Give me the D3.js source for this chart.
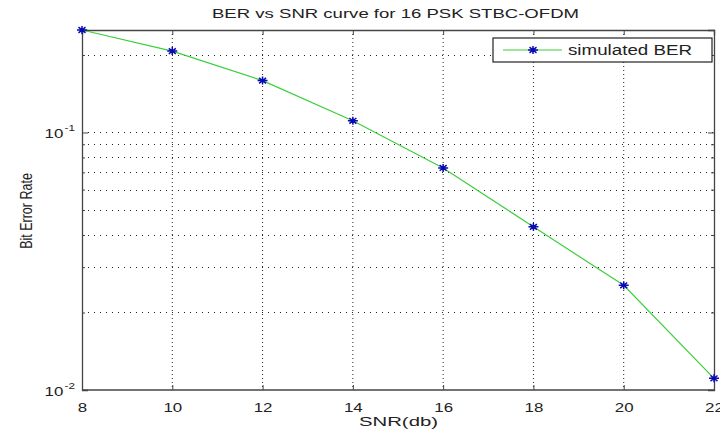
<!DOCTYPE html>
<html>
<head>
<meta charset="utf-8">
<script src="https://cdn.jsdelivr.net/npm/d3@7"></script>
<style>
  body { margin: 0; background: #fff; }
  text { font-family: "Liberation Sans", Arial, sans-serif; fill: #222; }
</style>
</head>
<body>
<div id="vis"></div>
<script>
// data
let snr = [8, 10, 12, 14, 16, 18, 20, 22]
let ber = [0.25, 0.207, 0.159, 0.111, 0.0728, 0.043, 0.0255, 0.0111]

let xTicks = [8, 10, 12, 14, 16, 18, 20, 22]
let yMajor = [0.01, 0.1]
let yMinor = [0.02, 0.03, 0.04, 0.05, 0.06, 0.07, 0.08, 0.09, 0.2]
let yLabels = ['-2', '-1']

let W = 720, H = 432
let margin = {top: 30, right: 6, bottom: 42, left: 82}
let w = W - margin.left - margin.right
let h = H - margin.top - margin.bottom
let sx = 1.3  // text in the picture is stretched sideways

let svg = d3.select('#vis').append('svg')
    .attr('width', W)
    .attr('height', H)

let g = svg.append('g')
    .attr('transform', `translate(${margin.left},${margin.top})`)

let x = d3.scaleLinear().domain([8, 22]).range([0, w])
let y = d3.scaleLog().domain([0.01, 0.25]).range([h, 0])

// grid
g.append('g').selectAll('line')
    .data(xTicks.slice(1, -1))
    .join('line')
    .attr('x1', d => x(d)).attr('x2', d => x(d))
    .attr('y1', 0).attr('y2', h)
    .attr('stroke', '#222')
    .attr('stroke-width', 1)
    .attr('stroke-dasharray', '1,3')

g.append('g').selectAll('line')
    .data(yMajor.concat(yMinor).filter(d => d > 0.01))
    .join('line')
    .attr('x1', 0).attr('x2', w)
    .attr('y1', d => Math.round(y(d)) + 0.5).attr('y2', d => Math.round(y(d)) + 0.5)
    .attr('stroke', '#222')
    .attr('stroke-width', 1)
    .attr('stroke-dasharray', '1,5')

// axes, ticks pointing in like matlab
let xBottom = g.append('g')
    .attr('transform', `translate(0,${h})`)
    .call(d3.axisBottom(x).tickValues(xTicks).tickSize(-5).tickPadding(12).tickFormat(d3.format('d')))
let xTop = g.append('g')
    .call(d3.axisTop(x).tickValues(xTicks).tickSize(-5).tickFormat(''))

let allY = yMajor.concat(yMinor)
let yLeft = g.append('g')
    .call(d3.axisLeft(y).tickValues(allY).tickSize(-6).tickFormat(''))
let yRight = g.append('g')
    .attr('transform', `translate(${w},0)`)
    .call(d3.axisRight(y).tickValues(allY).tickSize(-6).tickFormat(''))

;[xBottom, xTop, yLeft, yRight].forEach(a => {
    a.select('.domain').attr('stroke', '#444').attr('stroke-width', 1.3)
    a.selectAll('.tick line').attr('stroke', '#444')
})
yLeft.selectAll('.tick line').filter(d => yMinor.includes(d)).attr('x2', 3)
yRight.selectAll('.tick line').filter(d => yMinor.includes(d)).attr('x2', -3)

xBottom.selectAll('.tick text')
    .attr('font-size', 13)
    .attr('fill', '#222')
    .attr('y', 13)
    .attr('transform', `scale(${sx},1)`)
xBottom.select('.domain').remove()
g.append('line')
    .attr('x1', 0).attr('x2', w).attr('y1', h).attr('y2', h)
    .attr('stroke', '#444').attr('stroke-width', 1.3)

// y labels 10^-2, 10^-1
yLeft.selectAll('.tick').filter(d => yMajor.includes(d)).each(function (d, i) {
    let t = d3.select(this).append('text')
        .attr('fill', '#222')
        .attr('text-anchor', 'end')
        .attr('y', 5)
        .attr('transform', `translate(-7,0) scale(${sx},1)`)
    t.append('tspan').attr('font-size', 13).text('10')
    t.append('tspan').attr('font-size', 9).attr('dx', 1).attr('dy', -7).text(yLabels[i])
})

// the series
let line = d3.line()
    .x((d, i) => x(snr[i]))
    .y(d => y(d))

g.append('path')
    .datum(ber)
    .attr('fill', 'none')
    .attr('stroke', '#3ccf3c')
    .attr('stroke-width', 1.2)
    .attr('d', line)

function star(sel) {
    sel.append('path')
        .attr('d', 'M-5,0H5M0,-4V4M-3.5,-2.8L3.5,2.8M-3.5,2.8L3.5,-2.8')
        .attr('stroke', '#0a0ab4')
        .attr('stroke-width', 1.5)
        .attr('fill', 'none')
}

g.append('g').selectAll('g')
    .data(ber)
    .join('g')
    .attr('transform', (d, i) => `translate(${x(snr[i])},${y(d)})`)
    .call(star)

// legend
let leg = svg.append('g').attr('transform', 'translate(493,38)')
leg.append('rect')
    .attr('width', 219).attr('height', 24)
    .attr('fill', '#fff').attr('stroke', '#222').attr('stroke-width', 1.2)
leg.append('line')
    .attr('x1', 10).attr('x2', 69).attr('y1', 12).attr('y2', 12)
    .attr('stroke', '#3ccf3c').attr('stroke-width', 1.2)
leg.append('g').attr('transform', 'translate(40,12)').call(star)
leg.append('text')
    .attr('x', 75).attr('y', 17)
    .attr('font-size', 14)
    .attr('textLength', 124)
    .attr('lengthAdjust', 'spacingAndGlyphs')
    .text('simulated BER')

// title and axis labels
svg.append('text')
    .attr('x', 212).attr('y', 18)
    .attr('font-size', 13)
    .attr('textLength', 367)
    .attr('lengthAdjust', 'spacingAndGlyphs')
    .text('BER vs SNR curve for 16 PSK STBC-OFDM')

svg.append('text')
    .attr('x', 359).attr('y', 426)
    .attr('font-size', 13)
    .attr('textLength', 79)
    .attr('lengthAdjust', 'spacingAndGlyphs')
    .text('SNR(db)')

svg.append('text')
    .attr('transform', 'translate(32,211) rotate(-90) scale(1,1.3)')
    .attr('text-anchor', 'middle')
    .attr('font-size', 12.5)
    .text('Bit Error Rate')
</script>
</body>
</html>
